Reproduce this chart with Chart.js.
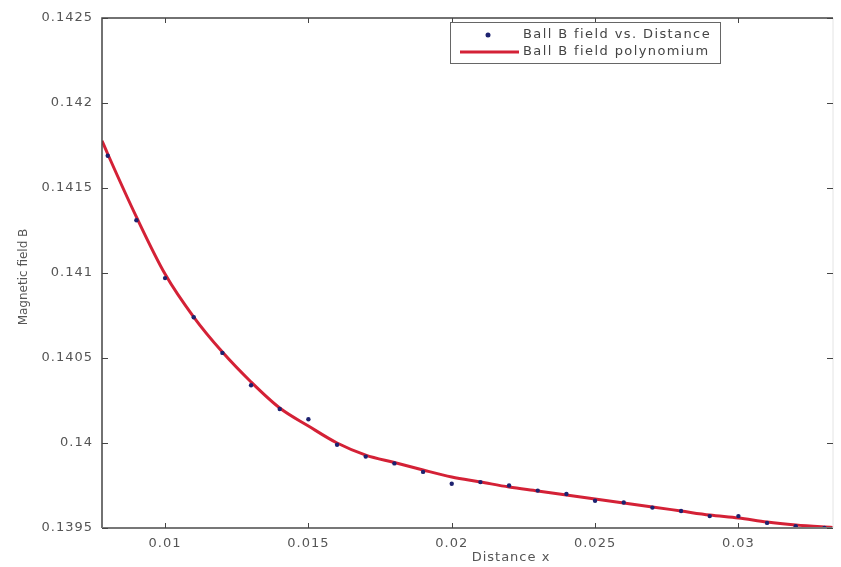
<!DOCTYPE html>
<html>
<head>
<meta charset="utf-8">
<script src="https://cdn.jsdelivr.net/npm/chart.js@4.4.1/dist/chart.umd.min.js"></script>
<style>
html,body{margin:0;padding:0;background:#fff;}
#wrap{width:841px;height:567px;position:relative;}
</style>
</head>
<body>
<div id="wrap"><canvas id="c" width="841" height="567"></canvas></div>
<script>
// ---- data ----
const distanceX = [0.008,0.009,0.010,0.011,0.012,0.013,0.014,0.015,0.016,0.017,0.018,0.019,0.020,0.021,0.022,0.023,0.024,0.025,0.026,0.027,0.028,0.029,0.030,0.031,0.032,0.033];
const fieldB    = [0.14169,0.14131,0.14097,0.14074,0.14053,0.14034,0.14020,0.14014,0.13999,0.13992,0.13988,0.13983,0.13976,0.13977,0.13975,0.13972,0.13970,0.13966,0.13965,0.13962,0.13960,0.13957,0.13957,0.13953,0.13951,0.13950];
const fitX = [0.0078,0.008,0.009,0.010,0.011,0.012,0.013,0.014,0.015,0.016,0.017,0.018,0.019,0.020,0.021,0.022,0.023,0.024,0.025,0.026,0.027,0.028,0.029,0.030,0.031,0.032,0.033,0.0333];
const fitB = [0.141778,0.141700,0.141330,0.140994,0.140741,0.140535,0.140359,0.140206,0.140100,0.140000,0.139929,0.139885,0.139841,0.139800,0.139771,0.139741,0.139718,0.139694,0.139671,0.139647,0.139624,0.139600,0.139576,0.139559,0.139535,0.139518,0.139506,0.139503];
const xTicks = [0.01,0.015,0.02,0.025,0.03];
const xTickLabels = ['0.01','0.015','0.02','0.025','0.03'];
const yTicks = [0.1395,0.14,0.1405,0.141,0.1415,0.142,0.1425];
const yTickLabels = ['0.1395','0.14','0.1405','0.141','0.1415','0.142','0.1425'];
const seriesNames = ['Ball B field vs. Distance','Ball B field polynomium'];
const xTitle = 'Distance x';
const yTitle = 'Magnetic field B';

const FONT = '"DejaVu Sans", Verdana, sans-serif';
const DOT = '#1d2270';
const RED = '#d42136';

const framePlugin = {
  id:'frame',
  beforeInit(chart){ chart.ctx.letterSpacing = '1px'; },
  beforeDraw(chart){ chart.ctx.letterSpacing = '1px'; },
  afterDatasetsDraw(chart){
    const {ctx, chartArea:a, scales:{x,y}} = chart;
    ctx.save();
    ctx.lineWidth = 1.5;
    ctx.strokeStyle = '#444';
    ctx.beginPath(); ctx.moveTo(a.left, a.bottom); ctx.lineTo(a.left, a.top); ctx.lineTo(a.right, a.top); ctx.stroke();
    ctx.strokeStyle = '#777'; ctx.lineWidth = 2;
    ctx.beginPath(); ctx.moveTo(a.left, a.bottom); ctx.lineTo(a.right, a.bottom); ctx.stroke();
    ctx.strokeStyle = '#e4e4e4'; ctx.lineWidth = 1;
    ctx.beginPath(); ctx.moveTo(a.right, a.top); ctx.lineTo(a.right, a.bottom); ctx.stroke();
    ctx.strokeStyle = '#444'; ctx.lineWidth = 1;
    yTicks.forEach(v=>{
      const py = Math.round(y.getPixelForValue(v))+0.5;
      ctx.beginPath(); ctx.moveTo(a.left, py); ctx.lineTo(a.left+6, py); ctx.stroke();
      ctx.beginPath(); ctx.moveTo(a.right, py); ctx.lineTo(a.right-6, py); ctx.stroke();
    });
    xTicks.forEach(v=>{
      const px = Math.round(x.getPixelForValue(v))+0.5;
      ctx.beginPath(); ctx.moveTo(px, a.bottom); ctx.lineTo(px, a.bottom-5); ctx.stroke();
      ctx.beginPath(); ctx.moveTo(px, a.top); ctx.lineTo(px, a.top+5); ctx.stroke();
    });
    ctx.fillStyle = '#555';
    ctx.font = '13px ' + FONT;
    ctx.letterSpacing = '1px';
    ctx.textAlign = 'center'; ctx.textBaseline = 'middle';
    ctx.fillText(xTitle, 511, 558);
    ctx.letterSpacing = '0px';
    ctx.font = '12px ' + FONT;
    ctx.translate(24, 277); ctx.rotate(-Math.PI/2);
    ctx.fillText(yTitle, 0, 0);
    ctx.restore();
    // legend
    ctx.save();
    ctx.fillStyle = '#fff';
    ctx.fillRect(450, 22, 270, 41);
    ctx.strokeStyle = '#666'; ctx.lineWidth = 1;
    ctx.strokeRect(450.5, 22.5, 270, 41);
    ctx.fillStyle = DOT;
    ctx.beginPath(); ctx.arc(488, 35, 2.5, 0, Math.PI*2); ctx.fill();
    ctx.strokeStyle = RED; ctx.lineWidth = 3;
    ctx.beginPath(); ctx.moveTo(460, 52); ctx.lineTo(519, 52); ctx.stroke();
    ctx.fillStyle = '#444';
    ctx.font = '13px ' + FONT;
    ctx.letterSpacing = '1.4px';
    ctx.textAlign = 'left'; ctx.textBaseline = 'middle';
    ctx.fillText(seriesNames[0], 523, 35);
    ctx.fillText(seriesNames[1], 523, 52);
    ctx.restore();
  }
};

new Chart(document.getElementById('c'), {
  type:'scatter',
  data:{
    datasets:[
      {
        label: seriesNames[0],
        data: distanceX.map((v,i)=>({x:v, y:fieldB[i]})),
        backgroundColor: DOT, borderColor: DOT,
        pointRadius: 2.2, pointBorderWidth: 0,
        showLine:false, order:1
      },
      {
        label: seriesNames[1],
        data: fitX.map((v,i)=>({x:v, y:fitB[i]})),
        borderColor: RED, backgroundColor: RED,
        borderWidth: 3, pointRadius: 0, showLine:true,
        cubicInterpolationMode:'monotone', order:2
      }
    ]
  },
  options:{
    responsive:false, animation:false,
    layout:{padding:{left:0, right:8, top:18, bottom:0}},
    plugins:{legend:{display:false}, tooltip:{enabled:false}},
    scales:{
      x:{
        type:'linear', min:0.0078, max:0.0333,
        afterBuildTicks(s){ s.ticks = xTicks.map(v=>({value:v})); },
        afterFit(s){ s.height = 39; },
        grid:{display:false, drawTicks:false},
        border:{display:false},
        ticks:{
          padding:8, color:'#555', font:{family:FONT, size:13},
          maxRotation:0, autoSkip:false,
          callback(v){ const i = xTicks.findIndex(t=>Math.abs(t-v)<1e-9); return i>=0 ? xTickLabels[i] : ''; }
        }
      },
      y:{
        type:'linear', min:0.1395, max:0.1425,
        afterBuildTicks(s){ s.ticks = yTicks.map(v=>({value:v})); },
        afterFit(s){ s.width = 102; },
        grid:{display:false, drawTicks:false},
        border:{display:false},
        ticks:{
          padding:9, color:'#555', font:{family:FONT, size:13}, autoSkip:false,
          callback(v){ const i = yTicks.findIndex(t=>Math.abs(t-v)<1e-9); return i>=0 ? yTickLabels[i] : ''; }
        }
      }
    }
  },
  plugins:[framePlugin]
});
</script>
</body>
</html>
